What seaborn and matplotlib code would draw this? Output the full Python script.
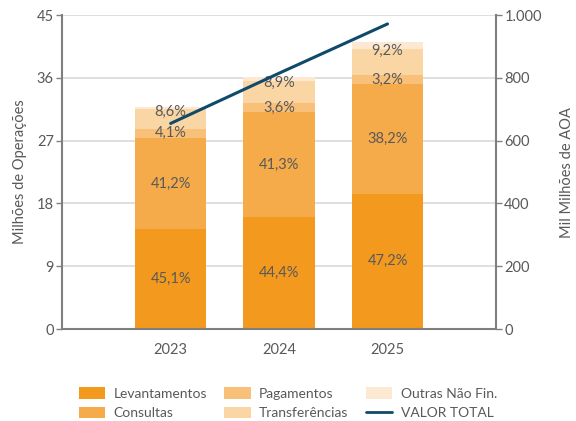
import matplotlib
matplotlib.use('Agg')
import matplotlib.pyplot as plt
import seaborn as sns
import numpy as np
from matplotlib.patches import Patch
from matplotlib.lines import Line2D
from matplotlib.ticker import FuncFormatter

# dados (milhões de operações por tipo)
anos = ['2023', '2024', '2025']
levantamentos = [14.3, 16.1, 19.4]
consultas = [13.1, 15.0, 15.7]
pagamentos = [1.3, 1.3, 1.3]
transferencias = [2.8, 3.2, 3.8]
outras = [0.3, 0.6, 0.9]
valor_total = [655, 815, 972]   # mil milhões de AOA

pct_lev = ['45,1%', '44,4%', '47,2%']
pct_cons = ['41,2%', '41,3%', '38,2%']
pct_pag = ['4,1%', '3,6%', '3,2%']
pct_transf = ['8,6%', '8,9%', '9,2%']

series = ['Levantamentos', 'Consultas', 'Pagamentos', 'Transferências', 'Outras Não Fin.']
valores = [levantamentos, consultas, pagamentos, transferencias, outras]
cores = ['#F39A1E', '#F5AB4A', '#F8C079', '#FBD6A5', '#FDE9D1']
cor_linha = '#0F4A6A'
cinza = '#595959'

sns.set_theme(style='white')
plt.rcParams['font.family'] = ['Lato', 'DejaVu Sans']

fig = plt.figure(figsize=(5.76, 4.21), dpi=100)
ax = fig.add_axes([0.108, 0.2185, 0.753, 0.7455])

# barras empilhadas: desenha os acumulados do maior para o menor
acum = np.cumsum(np.array(valores), axis=0)
for i in range(len(series) - 1, -1, -1):
    sns.barplot(x=anos, y=acum[i], color=cores[i], saturation=1, width=0.66,
                linewidth=0, ax=ax)

ax.set_xlim(-1, 3)
ax.set_ylim(0, 45)
ax.set_yticks(np.arange(0, 46, 9))
ax.set_axisbelow(True)
ax.yaxis.grid(True, color='#D9D9D9', linewidth=1.2)
ax.xaxis.grid(False)
ax.set_ylabel('Milhões de Operações', color=cinza, fontsize=10.5, labelpad=7)

# rótulos de percentagem
for j in range(len(anos)):
    base = 0
    for lab, v in zip([pct_lev[j], pct_cons[j], pct_pag[j]], valores[:3]):
        ax.text(j, base + v[j] / 2, lab, ha='center', va='center',
                color=cinza, fontsize=10.5)
        base += v[j]
    ax.text(j, acum[3][j] - 0.35, pct_transf[j], ha='center', va='center',
            color=cinza, fontsize=10.5)

# linha do valor total no eixo secundário
ax2 = ax.twinx()
sns.lineplot(x=[0, 1, 2], y=valor_total, color=cor_linha, linewidth=2.2, ax=ax2)
ax2.set_ylim(0, 1000)
ax2.set_xlim(-1, 3)
ax2.set_yticks(np.arange(0, 1001, 200))
ax2.yaxis.set_major_formatter(FuncFormatter(lambda v, p: f'{int(v):,}'.replace(',', '.')))
ax2.set_ylabel('Mil Milhões de AOA', color=cinza, fontsize=10.5, labelpad=13)
ax2.grid(False)

for a in (ax, ax2):
    for s in a.spines.values():
        s.set_visible(False)
    a.tick_params(axis='both', colors='#808080', labelcolor=cinza, labelsize=10.5,
                  length=4, width=1, direction='out', pad=2)
ax.spines['left'].set_visible(True)
ax.spines['bottom'].set_visible(True)
ax2.spines['right'].set_visible(True)
for s in (ax.spines['left'], ax.spines['bottom'], ax2.spines['right']):
    s.set_color('#7F7F7F')
    s.set_linewidth(1.5)
ax.tick_params(axis='x', pad=6)
ax.tick_params(axis='y', left=True)
ax2.tick_params(axis='y', right=True)

# legenda
handles = [Patch(facecolor=c, edgecolor='none') for c in cores]
handles.append(Line2D([], [], color=cor_linha, linewidth=2))
labels = series + ['VALOR TOTAL']
fig.legend(handles, labels, ncol=3, loc='lower left', bbox_to_anchor=(0.12, -0.019),
           frameon=False, fontsize=10, labelcolor=cinza, handlelength=1.9,
           handleheight=0.95, handletextpad=0.6, columnspacing=1.25,
           labelspacing=0.5, borderaxespad=0.3)

plt.savefig('out.png', dpi=100)
